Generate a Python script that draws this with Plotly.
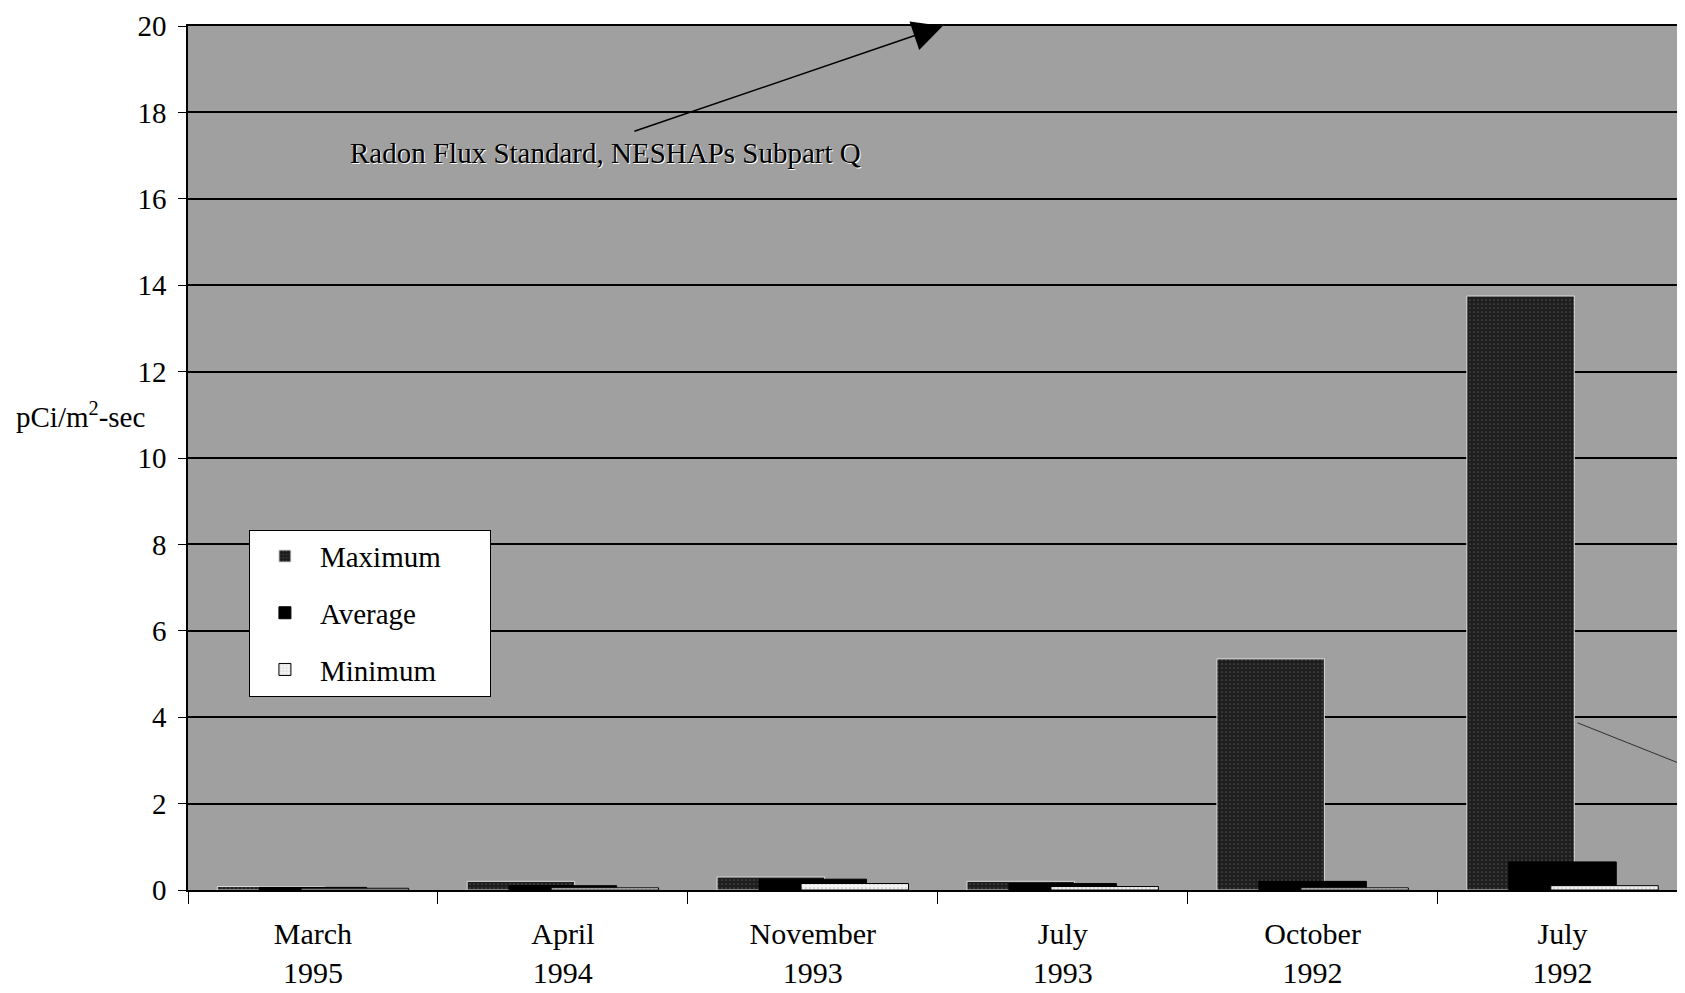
import plotly.graph_objects as go

categories = ["March<br>1995", "April<br>1994", "November<br>1993", "July<br>1993", "October<br>1992", "July<br>1992"]
maximum = [0.08, 0.2, 0.3, 0.2, 5.35, 13.75]
average = [0.06, 0.1, 0.25, 0.15, 0.2, 0.65]
minimum = [0.04, 0.05, 0.15, 0.08, 0.05, 0.1]
y_ticks = [0, 2, 4, 6, 8, 10, 12, 14, 16, 18, 20]
standard_value = 20

FONT = "Liberation Serif"
xpos = list(range(len(categories)))
NB = "&nbsp;" * 6

fig = go.Figure()
fig.add_trace(go.Bar(
    x=xpos, y=maximum, name="Maximum" + NB, width=0.43, offset=-0.383,
    marker=dict(color="#1e1e1e", line=dict(color="#dcdcdc", width=1),
                pattern=dict(shape=".", fgcolor="#7a7a7a", size=4, solidity=0.15)),
    legendgroup="a",
))
fig.add_trace(go.Bar(
    x=xpos, y=average, name="Average", width=0.43, offset=-0.215,
    marker=dict(color="#000000", line=dict(color="#000000", width=1)),
    legendgroup="b",
))
fig.add_trace(go.Bar(
    x=xpos, y=minimum, name="Minimum", width=0.43, offset=-0.047,
    marker=dict(color="#f2f2f2", line=dict(color="#000000", width=1),
                pattern=dict(shape=".", fgcolor="#9a9a9a", size=4, solidity=0.15)),
    legendgroup="c",
))

fig.update_layout(
    width=1677, height=985,
    margin=dict(l=180, r=0, t=18, b=103),
    paper_bgcolor="white",
    plot_bgcolor="#a0a0a0",
    barmode="overlay",
    font=dict(family=FONT, size=29, color="black"),
    showlegend=True,
    legend=dict(
        x=0.0407, y=0.417, xanchor="left", yanchor="top",
        bgcolor="white", bordercolor="black", borderwidth=1,
        font=dict(family=FONT, size=29, color="black"),
        traceorder="grouped", tracegroupgap=16,
        itemwidth=60,
    ),
    xaxis=dict(
        range=[-0.5, 5.49], automargin=False,
        tickmode="array", tickvals=xpos, ticktext=categories,
        ticks="", showgrid=False, zeroline=False,
        showline=True, linecolor="black", linewidth=1.5, mirror=True,
        ticklabelstandoff=16, ticklabeloverflow="allow",
        tickfont=dict(family=FONT, size=30),
        minor=dict(tickmode="array", tickvals=[-0.5, 0.5, 1.5, 2.5, 3.5, 4.5],
                   ticks="outside", ticklen=12, tickcolor="black", tickwidth=1, showgrid=False),
    ),
    yaxis=dict(
        range=[0, 20], automargin=False,
        tickmode="array", tickvals=y_ticks,
        ticks="outside", ticklen=8, tickcolor="black", tickwidth=1,
        ticklabelstandoff=6, ticklabeloverflow="allow",
        showgrid=True, gridcolor="black", gridwidth=1.5,
        zeroline=False,
        showline=True, linecolor="black", linewidth=1.5,
        tickfont=dict(family=FONT, size=29),
    ),
)

# y-axis title (horizontal)
fig.add_annotation(
    xref="paper", yref="y", x=-0.072, y=11,
    text="pCi/m<sup>2</sup>-sec", showarrow=False,
    font=dict(family=FONT, size=29, color="black"),
    xanchor="center", yanchor="middle",
)

# Standard label text
fig.add_annotation(
    xref="x", yref="y", x=1.17, y=17.05,
    text="Radon Flux Standard, NESHAPs Subpart Q", showarrow=False,
    font=dict(family=FONT, size=29, color="black", shadow="1px 1px 0px #ffffff"),
    xanchor="center", yanchor="middle",
)

# Arrow to the standard value
fig.add_annotation(
    xref="x", yref="y", x=2.52, y=standard_value,
    axref="x", ayref="y", ax=1.28, ay=17.55,
    text="", showarrow=True,
    arrowhead=2, arrowsize=4, arrowwidth=1.5, arrowcolor="black",
)

# faint leader line at lower right
fig.add_shape(
    type="line", xref="x", yref="y", x0=5.06, y0=3.87, x1=5.49, y1=2.88,
    line=dict(color="#303030", width=1), layer="below",
)

fig.write_html("out.html")
